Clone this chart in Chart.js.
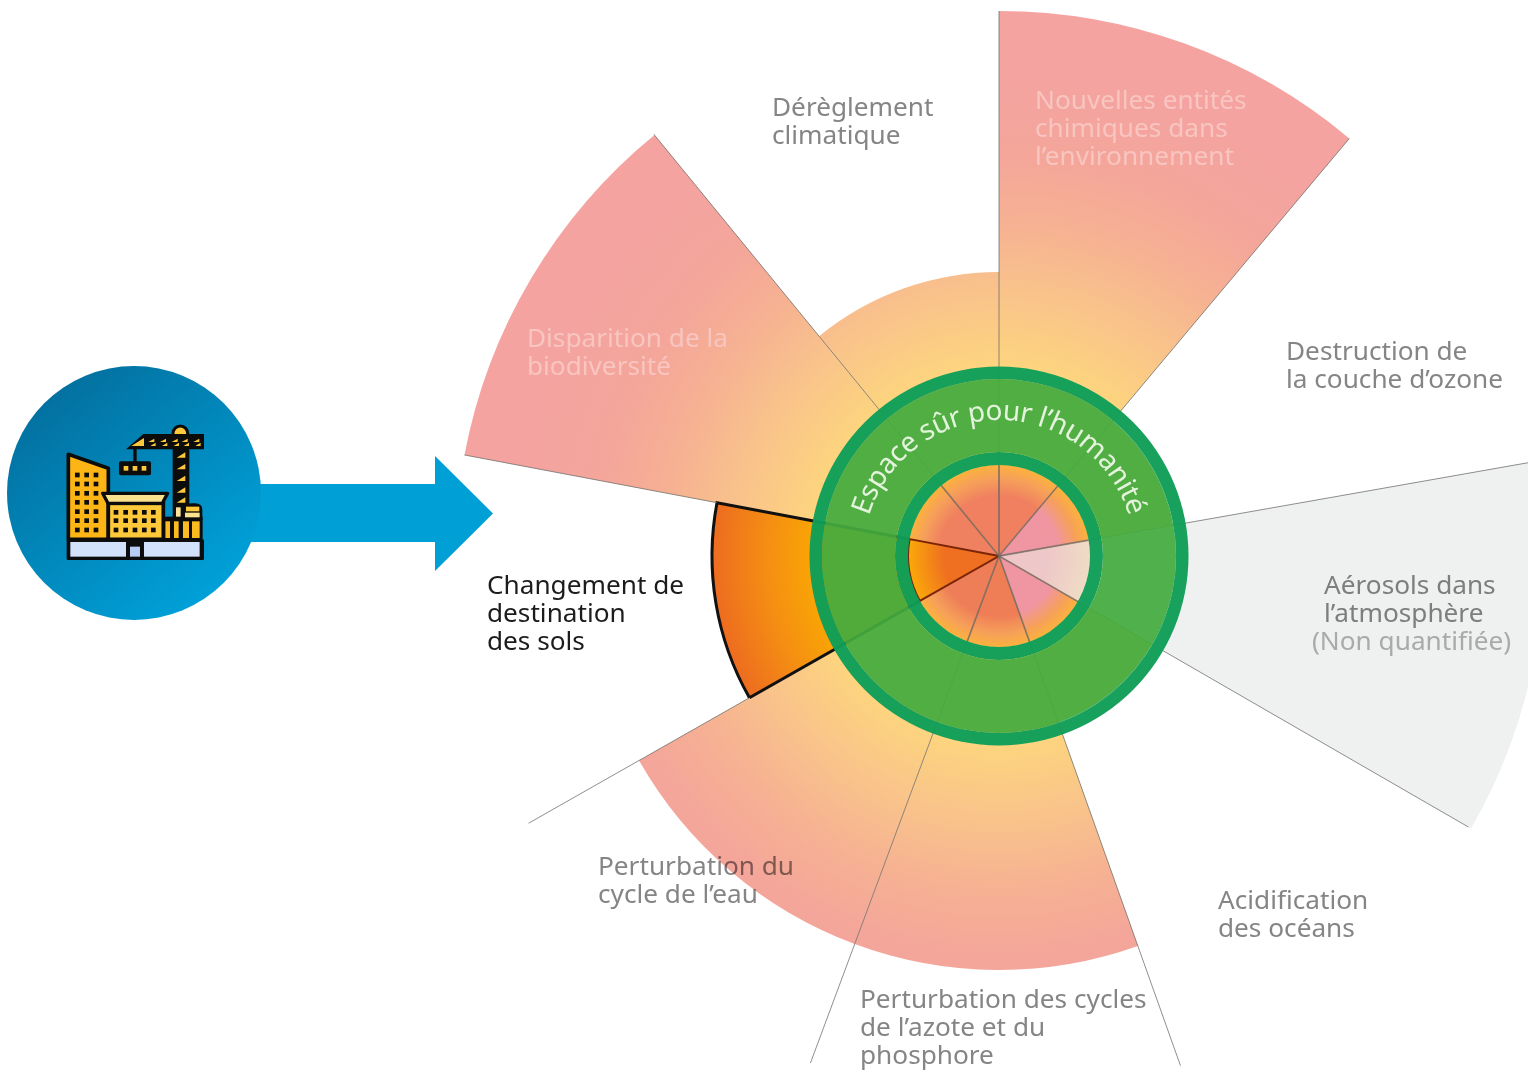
<!DOCTYPE html>
<html lang="fr">
<head>
<meta charset="utf-8">
<title>Limites planétaires</title>
<script src="https://cdn.jsdelivr.net/npm/chart.js@4/dist/chart.umd.min.js"></script>
<style>
    html, body { margin: 0; padding: 0; width: 1528px; height: 1073px; overflow: hidden; background: #fff; }
    #stage { position: relative; width: 1528px; height: 1073px; overflow: hidden; }
    #myChart { position: absolute; left: 0; top: 0; }
    #deco { position: absolute; left: 0; top: 0; }
    .label { position: absolute; white-space: pre; font-family: "Noto Sans", sans-serif; font-size: 26.2px; line-height: 28px; color: #858585; mix-blend-mode: multiply; }
    .label.pale { color: #f8c5c0; mix-blend-mode: normal; }
    .label.dark { color: #1c1c1c; }
    .label.note { color: #b4b4b4; }
</style>
</head>
<body>
<div id="stage">
    <canvas id="myChart" width="1998" height="1112"></canvas>
    <svg id="deco" width="1528" height="1073" viewBox="0 0 1528 1073" xmlns="http://www.w3.org/2000/svg"></svg>
</div>

<script>
// sectors, clockwise from the biodiversity one (the land sector has to be drawn last)
var categories = [
    ['Disparition de la', 'biodiversité'],
    ['Dérèglement', 'climatique'],
    ['Nouvelles entités', 'chimiques dans', 'l’environnement'],
    ['Destruction de', 'la couche d’ozone'],
    ['Aérosols dans', 'l’atmosphère'],
    ['Acidification', 'des océans'],
    ['Perturbation des cycles', 'de l’azote et du', 'phosphore'],
    ['Perturbation du', 'cycle de l’eau'],
    ['Changement de', 'destination', 'des sols']
];
var noteLabel = '(Non quantifiée)';
var ringLabel = 'Espace sûr pour l’humanité';

// radius of each sector
var outerValues = [544, 284, 545, 176, 545, 176, 414, 414, 287];
var centerValues = [91, 91, 91, 91, 91, 91, 91, 91, 91];
var spokeValues = [544, 545, 545, 545, 545, 542, 541, 541, 541];
var ringLimits = [91, 104, 177, 189.5];
var scaleMax = 556;

// sector widths in degrees, first one starts at firstAngle
var firstAngle = 280.7;
var sectorAngles = [40, 39.3, 40, 40, 40, 40.4, 40, 40, 40.3];

// styles
var LAND = 8;
var AEROSOLS = 4;
var centerColors = ['#ef8060', '#f08060', '#f08060', '#f096a2', '#efc8c8', '#f095a2', '#ef7e56', '#ee7e58', '#ee6f22'];
var labelLeft = [527, 772, 1035, 1286, 1324, 1218, 860, 598, 487];
var labelTop = [323, 92, 85, 336, 570, 885, 984, 851, 570];
var labelClass = ['pale', '', 'pale', '', '', '', '', '', 'dark'];

function radial(context, stops) {
    var chart = context.chart;
    var scale = chart.scales.r;
    if (!scale || !isFinite(scale.xCenter) || !isFinite(scale.yCenter)) {
        return 'transparent';
    }
    var full = scale.getDistanceFromCenterForValue(scaleMax);
    if (!isFinite(full)) {
        return 'transparent';
    }
    var g = chart.ctx.createRadialGradient(scale.xCenter, scale.yCenter, 0, scale.xCenter, scale.yCenter, full);
    stops.forEach(function (s) {
        g.addColorStop(s[0] / scaleMax, s[1]);
    });
    return g;
}

function outerColor(context) {
    var i = context.dataIndex;
    if (i === AEROSOLS) {
        return '#eff1f1';
    }
    if (i === LAND) {
        return radial(context, [[190, '#f9a306'], [230, '#f58f12'], [287, '#ed6c20']]);
    }
    return radial(context, [[185, '#fdd57e'], [260, '#f9c48a'], [330, '#f6b292'], [400, '#f4a69a'], [480, '#f4a3a0'], [556, '#f4a3a0']]);
}

function centerColor(context) {
    var i = context.dataIndex;
    if (i === AEROSOLS) {
        return radial(context, [[0, '#efc6c8'], [50, '#eec8c8'], [91, '#efdcc4']]);
    }
    if (i === LAND) {
        return radial(context, [[0, '#ee6f22'], [55, '#ef7020'], [91, '#fba90a']]);
    }
    var c = centerColors[i];
    return radial(context, [[0, c], [60, c], [78, '#f6a05a'], [91, '#fcb23c']]);
}

var spokesAndRing = {
    id: 'spokesAndRing',
    afterDatasetsDraw: function (chart) {
        var ctx = chart.ctx;
        var scale = chart.scales.r;
        var x = scale.xCenter;
        var y = scale.yCenter;
        var arcs = chart.getDatasetMeta(1).data;
        var d = function (v) { return scale.getDistanceFromCenterForValue(v); };
        ctx.save();

        // thin lines between the sectors
        spokeValues.forEach(function (v, i) {
            // the two edges of the land sector already have their own border up to its radius
            var from = (i === 0 || i === LAND) ? d(outerValues[LAND]) : 0;
            var angle = arcs[i].startAngle;
            ctx.beginPath();
            ctx.moveTo(x + Math.cos(angle) * from, y + Math.sin(angle) * from);
            ctx.lineTo(x + Math.cos(angle) * d(v), y + Math.sin(angle) * d(v));
            ctx.lineWidth = 1;
            ctx.strokeStyle = 'rgba(105,105,100,0.75)';
            ctx.stroke();
            // the same lines look heavier inside the centre disc
            if (from === 0) {
                ctx.beginPath();
                ctx.moveTo(x, y);
                ctx.lineTo(x + Math.cos(angle) * d(ringLimits[0]), y + Math.sin(angle) * d(ringLimits[0]));
                ctx.lineWidth = 1.8;
                ctx.strokeStyle = 'rgba(120,105,95,0.6)';
                ctx.stroke();
            }
        });

        // green rings
        function ring(r0, r1, color) {
            ctx.beginPath();
            ctx.arc(x, y, d(r1), 0, Math.PI * 2);
            ctx.arc(x, y, d(r0), 0, Math.PI * 2, true);
            ctx.closePath();
            ctx.fillStyle = color;
            ctx.fill();
        }
        ring(ringLimits[0], ringLimits[1], 'rgba(15,158,88,0.97)');
        ring(ringLimits[1], ringLimits[2], 'rgba(68,171,62,0.93)');
        ring(ringLimits[2], ringLimits[3], 'rgba(15,158,88,0.97)');
        ctx.restore();
    }
};

var dataChart = new Chart(document.getElementById('myChart').getContext('2d'), {
    type: 'polarArea',
    data: {
        labels: categories,
        datasets: [
            {
                label: 'Centre',
                data: centerValues,
                angle: sectorAngles,
                backgroundColor: centerColor,
                borderColor: '#7a2408',
                borderWidth: [0, 0, 0, 0, 0, 0, 0, 0, 2],
                borderJoinStyle: 'miter'
            },
            {
                label: 'Limites',
                data: outerValues,
                angle: sectorAngles,
                backgroundColor: outerColor,
                borderColor: '#111',
                borderWidth: [0, 0, 0, 0, 0, 0, 0, 0, 3],
                borderJoinStyle: 'miter'
            }
        ]
    },
    options: {
        responsive: false,
        animation: false,
        layout: { padding: 0 },
        plugins: { legend: { display: false }, tooltip: { enabled: false } },
        scales: {
            r: {
                min: 0,
                max: scaleMax,
                startAngle: firstAngle,
                grid: { display: false },
                angleLines: { display: false },
                pointLabels: { display: false },
                ticks: { display: false }
            }
        }
    },
    plugins: [spokesAndRing]
});

// text labels
var stage = document.getElementById('stage');

function addLabel(text, left, top, cls) {
    var div = document.createElement('div');
    div.className = 'label ' + cls;
    div.textContent = text;
    div.style.left = left + 'px';
    div.style.top = top + 'px';
    stage.appendChild(div);
}

categories.forEach(function (lines, i) {
    addLabel(lines.join('\n'), labelLeft[i], labelTop[i], labelClass[i]);
});
addLabel(noteLabel, 1312, 626, 'note');

// blue disc, arrow, building icon and the curved text
function drawDeco() {
    var s = '';
    var black = '#0c0c0c';

    s += '<defs>';
    s += '<linearGradient id="disc" x1="0.15" y1="0.1" x2="0.8" y2="0.9">';
    s += '<stop offset="0" stop-color="#03709f"/><stop offset="1" stop-color="#00a0d8"/></linearGradient>';
    s += '<path id="ringPath" d="M 863 556 A 136 136 0 0 1 1135 556"/>';
    s += '</defs>';

    s += '<polygon points="240,484 435,484 435,456 493,513.5 435,571 435,542 240,542" fill="#009fd6"/>';
    s += '<circle cx="134" cy="493" r="127" fill="url(#disc)"/>';

    s += '<g transform="translate(0,360) scale(0.3333)">';
    // crane
    s += '<rect x="518" y="240" width="50" height="240" fill="' + black + '"/>';
    s += '<path d="M519 225 a22 22 0 0 1 44 0 v10 h-44 z" transform="translate(0,-5)" fill="#fdc83a" stroke="' + black + '" stroke-width="9"/>';
    s += '<polygon points="378,268 430,222 612,222 612,268" fill="' + black + '"/>';
    s += '<polygon points="394,258 432,234 432,258" fill="#fdc83a"/>';
    [455, 490, 525, 555, 590].forEach(function (x) {
        s += '<polygon points="' + (x - 10) + ',246 ' + (x + 8) + ',236 ' + (x + 8) + ',246" fill="#fdc83a"/>';
        s += '<polygon points="' + (x - 4) + ',258 ' + (x + 12) + ',248 ' + (x + 12) + ',258" fill="#fdc83a"/>';
    });
    [285, 320, 355, 390, 420].forEach(function (y) {
        s += '<polygon points="530,' + (y + 8) + ' 556,' + (y - 8) + ' 556,' + (y + 8) + '" fill="#fdc83a"/>';
    });
    s += '<rect x="400" y="265" width="10" height="45" fill="' + black + '"/>';
    s += '<rect x="357" y="304" width="96" height="42" rx="6" fill="' + black + '"/>';
    [378, 405, 432].forEach(function (x) {
        s += '<rect x="' + (x - 7) + '" y="318" width="14" height="14" fill="#fdc83a"/>';
    });
    // right block
    s += '<rect x="490" y="470" width="118" height="75" fill="' + black + '"/>';
    s += '<path d="M550 478 v-28 q0 -20 25 -20 h10 q22 0 22 20 v30 z" fill="' + black + '"/>';
    s += '<rect x="558" y="440" width="40" height="14" fill="#fdc83a"/>';
    s += '<rect x="555" y="458" width="44" height="14" fill="#fbe28e"/>';
    [[496, 14], [522, 14], [549, 18], [576, 23]].forEach(function (b) {
        s += '<rect x="' + b[0] + '" y="484" width="' + b[1] + '" height="50" fill="#fdbb22"/>';
    });
    s += '<rect x="528" y="442" width="14" height="28" fill="#fde39a"/>';
    // tower
    s += '<polygon points="205,283 325,325 325,538 205,538" fill="#fdb515" stroke="' + black + '" stroke-width="11" stroke-linejoin="round"/>';
    [232, 260, 288].forEach(function (x) {
        [345, 372, 400, 427, 455, 482, 510].forEach(function (y) {
            s += '<rect x="' + (x - 7) + '" y="' + (y - 7) + '" width="14" height="14" fill="' + black + '"/>';
        });
    });
    // middle building
    s += '<rect x="325" y="430" width="165" height="108" fill="#fdc83a" stroke="' + black + '" stroke-width="11"/>';
    s += '<polygon points="308,400 503,400 487,430 324,430" fill="#fbe28e" stroke="' + black + '" stroke-width="10" stroke-linejoin="round"/>';
    [348, 377, 405, 433, 460].forEach(function (x) {
        [457, 482, 510].forEach(function (y) {
            s += '<rect x="' + (x - 7) + '" y="' + (y - 7) + '" width="14" height="14" fill="' + black + '"/>';
        });
    });
    // ground
    s += '<rect x="200" y="538" width="412" height="62" rx="4" fill="' + black + '"/>';
    s += '<rect x="211" y="546" width="167" height="44" fill="#d3e2fb"/>';
    s += '<rect x="432" y="546" width="167" height="44" fill="#d3e2fb"/>';
    s += '<rect x="390" y="560" width="30" height="30" fill="#b7cdf3"/>';
    s += '</g>';

    s += '<text font-family="Noto Sans, sans-serif" font-size="28" fill="#e4f3dc">';
    s += '<textPath href="#ringPath" startOffset="50%" text-anchor="middle" textLength="346" lengthAdjust="spacing">' + ringLabel + '</textPath></text>';

    document.getElementById('deco').innerHTML = s;
}
drawDeco();
</script>
</body>
</html>
